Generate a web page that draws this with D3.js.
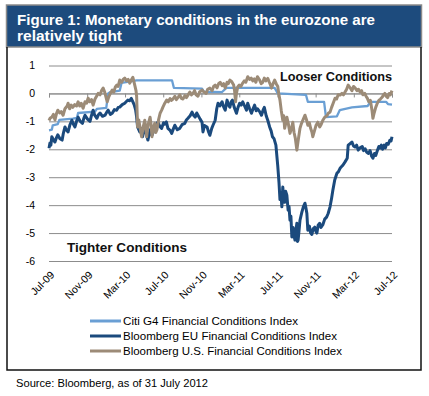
<!DOCTYPE html>
<html><head><meta charset="utf-8">
<script src="https://cdn.jsdelivr.net/npm/d3@7"></script>
<style>
html,body{margin:0;padding:0;background:#fff;}
svg{display:block;}
</style></head>
<body>
<svg id="chart" width="429" height="396"></svg>
<script>
// ---------- DATA ----------
const titleLines = ["Figure 1: Monetary conditions in the eurozone are", "relatively tight"];
const seriesNames = ["Citi G4 Financial Conditions Index", "Bloomberg EU Financial Conditions Index", "Bloomberg U.S. Financial Conditions Index"];
const yTicks = [1, 0, -1, -2, -3, -4, -5, -6];
const xTickDates = ["2009-07-31","2009-11-30","2010-03-31","2010-07-31","2010-11-30","2011-03-31","2011-07-31","2011-11-30","2012-03-31","2012-07-31"];
const xDomain = ["2009-07-31", "2012-07-31"];

const citiG4 = [
 ["2009-07-31",-1.32],["2009-08-09",-1.30],["2009-08-12",-1.14],["2009-08-28",-1.10],["2009-09-02",-0.95],
 ["2009-10-15",-0.90],["2009-10-28",-0.88],["2009-11-01",-0.70],["2009-12-25",-0.65],["2009-12-31",-0.55],
 ["2010-01-30",-0.52],["2010-02-05",0.00],["2010-02-12",0.05],["2010-03-14",0.10],["2010-03-20",0.38],
 ["2010-05-07",0.47],["2010-08-28",0.47],["2010-09-03",0.20],["2010-12-02",0.17],["2010-12-08",0.06],
 ["2011-02-04",0.05],["2011-02-18",0.20],["2011-07-22",0.20],["2011-08-01",0.00],["2011-10-30",-0.05],
 ["2011-11-05",-0.30],["2011-12-27",-0.30],["2012-01-02",-0.85],["2012-02-06",-0.82],["2012-02-15",-0.60],
 ["2012-03-25",-0.50],["2012-05-14",-0.45],["2012-05-24",-0.30],["2012-07-12",-0.30],["2012-07-18",-0.38],
 ["2012-07-31",-0.40]
];

const bloombergEU = [
 ["2009-07-31",-1.96],["2009-08-03",-1.78],["2009-08-06",-1.85],["2009-08-09",-1.55],["2009-08-14",-1.66],
 ["2009-08-19",-1.74],["2009-08-24",-1.58],["2009-08-28",-1.48],["2009-09-04",-1.62],["2009-09-11",-1.67],
 ["2009-09-15",-1.42],["2009-09-20",-1.20],["2009-09-25",-1.32],["2009-09-30",-1.38],["2009-10-06",-1.12],
 ["2009-10-12",-0.96],["2009-10-17",-1.10],["2009-10-22",-1.20],["2009-10-27",-1.00],["2009-11-01",-0.85],
 ["2009-11-08",-1.00],["2009-11-15",-1.07],["2009-11-19",-0.90],["2009-11-23",-0.78],["2009-12-01",-0.92],
 ["2009-12-09",-1.00],["2009-12-14",-0.78],["2009-12-19",-0.60],["2009-12-24",-0.78],["2009-12-31",-0.89],
 ["2010-01-05",-0.76],["2010-01-10",-0.70],["2010-01-18",-0.82],["2010-01-26",-0.78],["2010-02-01",-0.66],
 ["2010-02-05",-0.60],["2010-02-12",-0.75],["2010-02-18",-0.71],["2010-02-25",-0.58],["2010-03-04",-0.60],
 ["2010-03-09",-0.50],["2010-03-14",-0.49],["2010-03-22",-0.40],["2010-03-30",-0.35],["2010-04-05",-0.28],
 ["2010-04-09",-0.24],["2010-04-15",-0.26],["2010-04-20",-0.18],["2010-04-25",-0.30],["2010-04-29",-0.40],
 ["2010-05-04",-0.60],["2010-05-07",-0.85],["2010-05-10",-1.20],["2010-05-17",-1.38],["2010-05-21",-1.25],
 ["2010-05-26",-1.55],["2010-06-02",-1.20],["2010-06-07",-1.45],["2010-06-12",-1.67],["2010-06-19",-1.30],
 ["2010-06-25",-1.50],["2010-06-30",-1.35],["2010-07-04",-1.20],["2010-07-09",-1.10],["2010-07-14",-1.03],
 ["2010-07-20",-1.18],["2010-07-26",-1.25],["2010-08-01",-1.05],["2010-08-05",-1.10],["2010-08-10",-1.02],
 ["2010-08-15",-1.25],["2010-08-22",-1.32],["2010-08-27",-1.43],["2010-09-01",-1.28],["2010-09-06",-1.14],
 ["2010-09-14",-1.30],["2010-09-22",-1.25],["2010-09-29",-1.12],["2010-10-08",-1.07],["2010-10-13",-0.95],
 ["2010-10-18",-0.89],["2010-10-25",-0.80],["2010-10-31",-0.67],["2010-11-05",-0.78],["2010-11-10",-0.85],
 ["2010-11-15",-0.70],["2010-11-19",-0.78],["2010-11-26",-0.92],["2010-12-02",-1.03],["2010-12-05",-1.38],
 ["2010-12-10",-1.15],["2010-12-18",-1.20],["2010-12-22",-1.35],["2010-12-27",-1.50],["2011-01-02",-1.25],
 ["2011-01-06",-1.14],["2011-01-13",-0.96],["2011-01-18",-0.55],["2011-01-22",-0.35],["2011-01-28",-0.45],
 ["2011-02-04",-0.30],["2011-02-09",-0.48],["2011-02-14",-0.60],["2011-02-20",-0.24],["2011-02-24",-0.40],
 ["2011-03-01",-0.49],["2011-03-05",-0.30],["2011-03-09",-0.24],["2011-03-15",-0.50],["2011-03-22",-0.71],
 ["2011-03-27",-0.50],["2011-04-01",-0.35],["2011-04-06",-0.42],["2011-04-11",-0.30],["2011-04-17",-0.45],
 ["2011-04-23",-0.60],["2011-04-27",-0.35],["2011-05-03",-0.55],["2011-05-09",-0.71],["2011-05-14",-0.55],
 ["2011-05-19",-0.42],["2011-05-24",-0.62],["2011-05-28",-0.55],["2011-06-04",-0.65],["2011-06-10",-0.78],
 ["2011-06-15",-0.60],["2011-06-19",-0.50],["2011-06-25",-0.80],["2011-06-30",-0.96],["2011-07-06",-1.20],
 ["2011-07-11",-1.35],["2011-07-15",-1.55],["2011-07-20",-1.62],["2011-07-26",-1.85],["2011-08-01",-2.60],
 ["2011-08-05",-3.20],["2011-08-08",-3.80],["2011-08-11",-3.55],["2011-08-14",-4.06],["2011-08-17",-3.35],
 ["2011-08-20",-3.75],["2011-08-23",-3.90],["2011-08-26",-3.50],["2011-08-30",-3.64],["2011-09-03",-4.18],
 ["2011-09-06",-4.05],["2011-09-09",-4.54],["2011-09-12",-4.40],["2011-09-15",-5.14],["2011-09-19",-4.80],
 ["2011-09-22",-5.10],["2011-09-25",-5.25],["2011-09-28",-4.90],["2011-10-01",-4.65],["2011-10-03",-5.30],
 ["2011-10-05",-5.25],["2011-10-08",-4.90],["2011-10-11",-4.54],["2011-10-17",-4.25],["2011-10-22",-4.05],
 ["2011-10-27",-3.93],["2011-10-30",-4.10],["2011-11-02",-4.30],["2011-11-05",-4.90],["2011-11-10",-4.75],
 ["2011-11-14",-5.00],["2011-11-18",-5.05],["2011-11-22",-4.85],["2011-11-27",-4.79],["2011-12-01",-4.95],
 ["2011-12-04",-5.00],["2011-12-08",-4.72],["2011-12-13",-4.65],["2011-12-17",-4.80],["2011-12-23",-4.70],
 ["2011-12-29",-4.50],["2012-01-04",-4.43],["2012-01-09",-4.30],["2012-01-15",-4.06],["2012-01-20",-3.75],
 ["2012-01-24",-3.47],["2012-01-30",-3.10],["2012-02-06",-2.86],["2012-02-11",-2.80],["2012-02-16",-2.68],
 ["2012-02-21",-2.62],["2012-02-25",-2.57],["2012-03-03",-2.45],["2012-03-10",-2.32],["2012-03-13",-1.85],
 ["2012-03-19",-1.80],["2012-03-25",-1.74],["2012-03-30",-1.88],["2012-04-04",-1.92],["2012-04-09",-1.85],
 ["2012-04-14",-2.03],["2012-04-20",-1.95],["2012-04-27",-1.90],["2012-05-01",-2.05],["2012-05-06",-1.98],
 ["2012-05-11",-2.10],["2012-05-16",-2.15],["2012-05-22",-2.05],["2012-05-27",-2.25],["2012-05-31",-2.32],
 ["2012-06-05",-2.15],["2012-06-09",-2.22],["2012-06-14",-2.05],["2012-06-19",-1.90],["2012-06-23",-1.96],
 ["2012-06-27",-1.85],["2012-07-01",-2.00],["2012-07-06",-1.85],["2012-07-10",-1.95],["2012-07-14",-1.79],
 ["2012-07-19",-1.82],["2012-07-24",-1.68],["2012-07-28",-1.70],["2012-07-31",-1.55]
];

const bloombergUS = [
 ["2009-07-31",-0.97],["2009-08-04",-0.88],["2009-08-09",-0.85],["2009-08-14",-0.75],["2009-08-19",-0.95],
 ["2009-08-24",-0.72],["2009-08-28",-0.60],["2009-09-03",-0.70],["2009-09-08",-0.65],["2009-09-14",-0.78],
 ["2009-09-20",-0.55],["2009-09-27",-0.45],["2009-09-30",-0.35],["2009-10-05",-0.55],["2009-10-10",-0.42],
 ["2009-10-15",-0.50],["2009-10-21",-0.40],["2009-10-27",-0.45],["2009-11-01",-0.30],["2009-11-06",-0.45],
 ["2009-11-11",-0.35],["2009-11-17",-0.53],["2009-11-23",-0.30],["2009-11-28",-0.35],["2009-12-03",-0.17],
 ["2009-12-08",-0.30],["2009-12-14",-0.22],["2009-12-19",-0.42],["2009-12-25",-0.20],["2010-01-04",0.00],
 ["2010-01-10",-0.05],["2010-01-15",0.10],["2010-01-20",0.19],["2010-01-25",0.05],["2010-02-02",-0.30],
 ["2010-02-07",-0.12],["2010-02-12",0.00],["2010-02-18",0.12],["2010-02-23",0.05],["2010-02-28",0.23],
 ["2010-03-05",0.30],["2010-03-09",0.25],["2010-03-14",0.48],["2010-03-20",0.40],["2010-03-25",0.50],
 ["2010-03-30",0.55],["2010-04-05",0.45],["2010-04-10",0.50],["2010-04-15",0.37],["2010-04-20",0.48],
 ["2010-04-25",0.58],["2010-05-01",0.30],["2010-05-05",0.10],["2010-05-07",-0.10],["2010-05-10",-1.20],
 ["2010-05-14",-0.95],["2010-05-19",-1.30],["2010-05-23",-1.55],["2010-05-28",-1.20],["2010-06-02",-0.96],
 ["2010-06-05",-1.25],["2010-06-08",-1.55],["2010-06-13",-1.10],["2010-06-19",-0.85],["2010-06-22",-1.10],
 ["2010-06-25",-1.55],["2010-06-29",-1.25],["2010-07-04",-1.07],["2010-07-07",-1.40],["2010-07-11",-1.30],
 ["2010-07-16",-0.95],["2010-07-21",-0.71],["2010-07-26",-0.60],["2010-07-30",-0.49],["2010-08-05",-0.35],
 ["2010-08-11",-0.24],["2010-08-16",-0.30],["2010-08-22",-0.18],["2010-08-26",-0.25],["2010-08-31",-0.20],
 ["2010-09-06",-0.10],["2010-09-11",-0.22],["2010-09-17",-0.13],["2010-09-22",-0.05],["2010-09-27",-0.18],
 ["2010-10-02",-0.20],["2010-10-08",-0.08],["2010-10-13",-0.15],["2010-10-18",-0.06],["2010-10-24",0.05],
 ["2010-10-29",-0.05],["2010-11-03",0.00],["2010-11-08",0.10],["2010-11-13",-0.05],["2010-11-19",-0.10],
 ["2010-11-24",0.05],["2010-12-02",0.12],["2010-12-08",0.05],["2010-12-15",0.00],["2010-12-20",0.15],
 ["2010-12-27",0.19],["2011-01-03",0.10],["2011-01-08",0.25],["2011-01-13",0.30],["2011-01-19",0.20],
 ["2011-01-24",0.35],["2011-01-29",0.40],["2011-02-04",0.28],["2011-02-09",0.35],["2011-02-14",0.19],
 ["2011-02-20",0.40],["2011-02-24",0.35],["2011-03-01",0.48],["2011-03-07",0.42],["2011-03-13",0.30],
 ["2011-03-16",0.10],["2011-03-19",-0.30],["2011-03-22",0.00],["2011-03-26",0.23],["2011-03-31",0.30],
 ["2011-04-05",0.25],["2011-04-11",0.37],["2011-04-16",0.45],["2011-04-21",0.40],["2011-04-27",0.60],
 ["2011-05-03",0.50],["2011-05-08",0.55],["2011-05-13",0.45],["2011-05-18",0.52],["2011-05-23",0.40],
 ["2011-05-28",0.60],["2011-06-03",0.50],["2011-06-09",0.35],["2011-06-14",0.40],["2011-06-19",0.55],
 ["2011-06-24",0.45],["2011-06-30",0.54],["2011-07-05",0.40],["2011-07-09",0.30],["2011-07-12",0.19],
 ["2011-07-17",0.35],["2011-07-22",0.48],["2011-07-27",0.35],["2011-08-01",0.25],["2011-08-04",0.00],
 ["2011-08-08",-0.24],["2011-08-12",-0.60],["2011-08-17",-0.96],["2011-08-20",-0.80],["2011-08-23",-1.25],
 ["2011-08-27",-1.05],["2011-08-30",-0.85],["2011-09-04",-1.10],["2011-09-09",-1.43],["2011-09-14",-1.25],
 ["2011-09-18",-1.03],["2011-09-22",-1.40],["2011-09-26",-1.60],["2011-10-01",-2.03],["2011-10-05",-1.70],
 ["2011-10-11",-1.25],["2011-10-15",-1.10],["2011-10-20",-0.96],["2011-10-27",-0.78],["2011-11-01",-0.95],
 ["2011-11-05",-1.14],["2011-11-10",-1.05],["2011-11-14",-1.25],["2011-11-18",-1.38],["2011-11-21",-1.55],
 ["2011-11-26",-1.35],["2011-12-01",-1.15],["2011-12-07",-1.03],["2011-12-13",-1.20],["2011-12-18",-1.10],
 ["2011-12-23",-0.96],["2011-12-29",-0.85],["2012-01-05",-0.80],["2012-01-10",-0.70],["2012-01-15",-0.67],
 ["2012-01-20",-0.50],["2012-01-25",-0.35],["2012-01-31",-0.17],["2012-02-05",-0.20],["2012-02-10",-0.05],
 ["2012-02-16",-0.06],["2012-02-22",0.00],["2012-02-27",-0.05],["2012-03-03",0.05],["2012-03-08",0.15],
 ["2012-03-13",0.30],["2012-03-18",0.22],["2012-03-25",0.10],["2012-03-30",0.25],["2012-04-04",0.20],
 ["2012-04-10",0.10],["2012-04-15",0.15],["2012-04-20",0.05],["2012-04-25",0.10],["2012-04-29",-0.05],
 ["2012-05-05",0.00],["2012-05-09",-0.10],["2012-05-13",-0.17],["2012-05-18",-0.30],["2012-05-23",-0.25],
 ["2012-05-28",-0.60],["2012-05-31",-0.89],["2012-06-04",-0.70],["2012-06-09",-0.50],["2012-06-14",-0.35],
 ["2012-06-19",-0.25],["2012-06-24",-0.20],["2012-06-30",-0.13],["2012-07-04",-0.05],["2012-07-08",0.00],
 ["2012-07-12",-0.10],["2012-07-17",-0.15],["2012-07-22",0.00],["2012-07-26",-0.05],["2012-07-31",0.10]
];

const seriesColors = ["#6a9fd4", "#1b4a7d", "#9c8b77"];
const seriesWidths = [2.3, 3, 3];

// ---------- DRAW ----------
const parse = d3.timeParse("%Y-%m-%d");
const svg = d3.select("#chart");
const font = "'Liberation Sans', Arial, sans-serif";

// title bar
svg.append("rect").attr("x", 6.5).attr("y", 5).attr("width", 415).attr("height", 42)
  .attr("fill", "#1d4b7d").attr("stroke", "#8a8a8a").attr("stroke-width", 1.5);
const titleLens = [358, 105];
titleLines.forEach((t, i) => {
  svg.append("text").attr("x", 17).attr("y", 25 + i * 16)
    .attr("fill", "#fff").attr("font-family", font).attr("font-weight", "bold").attr("font-size", 15)
    .attr("textLength", titleLens[i]).attr("lengthAdjust", "spacingAndGlyphs").text(t);
});

// frame
svg.append("path").attr("d", "M7,47 V370 H421 V47").attr("fill", "none")
  .attr("stroke", "#111").attr("stroke-width", 1.5);

const x = d3.scaleTime().domain(xDomain.map(parse)).range([49, 392]);
const y = d3.scaleLinear().domain([-6, 1]).range([261, 65.5]);

// gridlines + y labels
const yAxis = d3.axisLeft(y).tickValues(yTicks).tickSize(-(392 - 49)).tickPadding(14)
  .tickFormat(d3.format("d"));
const gy = svg.append("g").attr("transform", "translate(49,0)").call(yAxis);
gy.select(".domain").remove();
gy.selectAll(".tick line").attr("stroke", "#8c8c8c").attr("stroke-width", 1);
gy.selectAll(".tick text").attr("font-family", font).attr("font-size", 10.5).attr("fill", "#000")
  .text(d => d < 0 ? "-" + Math.abs(d) : d);

// zero axis with ticks
const tickDates = xTickDates.map(parse);
const gz = svg.append("g").attr("transform", `translate(0,${y(0)})`)
  .call(d3.axisBottom(x).tickValues(tickDates).tickSize(4).tickFormat(""));
gz.select(".domain").attr("stroke", "#8c8c8c");
gz.selectAll(".tick line").attr("stroke", "#8c8c8c");

// bottom labels
const gx = svg.append("g").attr("transform", `translate(0,${y(-6)})`)
  .call(d3.axisBottom(x).tickValues(tickDates).tickSize(0).tickFormat(d3.timeFormat("%b-%y")));
gx.select(".domain").remove();
gx.selectAll(".tick text").attr("font-family", font).attr("font-size", 10.5).attr("fill", "#000")
  .attr("text-anchor", "end").attr("transform", "translate(3,12) rotate(-45)").attr("dy", "0.35em").attr("y", 0);

// lines
const line = d3.line().x(d => x(parse(d[0]))).y(d => y(d[1]));
[citiG4, bloombergEU, bloombergUS].forEach((s, i) => {
  svg.append("path").datum(s).attr("d", line).attr("fill", "none")
    .attr("stroke", seriesColors[i]).attr("stroke-width", seriesWidths[i]).attr("stroke-linejoin", "round");
});

// annotations
svg.append("text").attr("x", 280).attr("y", 81).attr("font-family", font).attr("font-size", 12.5)
  .attr("font-weight", "bold").attr("fill", "#111").attr("textLength", 112).attr("lengthAdjust", "spacingAndGlyphs")
  .text("Looser Conditions");
svg.append("text").attr("x", 67).attr("y", 252).attr("font-family", font).attr("font-size", 12.5)
  .attr("font-weight", "bold").attr("fill", "#111").attr("textLength", 120).attr("lengthAdjust", "spacingAndGlyphs")
  .text("Tighter Conditions");

// legend
const legendY = [321, 336, 351];
const legendLens = [175, 214, 219];
seriesNames.forEach((n, i) => {
  svg.append("line").attr("x1", 90).attr("x2", 121).attr("y1", legendY[i]).attr("y2", legendY[i])
    .attr("stroke", seriesColors[i]).attr("stroke-width", 3);
  svg.append("text").attr("x", 123).attr("y", legendY[i]).attr("dy", "0.36em")
    .attr("font-family", font).attr("font-size", 11).attr("fill", "#000")
    .attr("textLength", legendLens[i]).attr("lengthAdjust", "spacingAndGlyphs").text(n);
});

// source
svg.append("text").attr("x", 16).attr("y", 387).attr("font-family", font).attr("font-size", 11)
  .attr("fill", "#000").attr("textLength", 192).attr("lengthAdjust", "spacingAndGlyphs")
  .text("Source: Bloomberg, as of 31 July 2012");
</script>
</body></html>
